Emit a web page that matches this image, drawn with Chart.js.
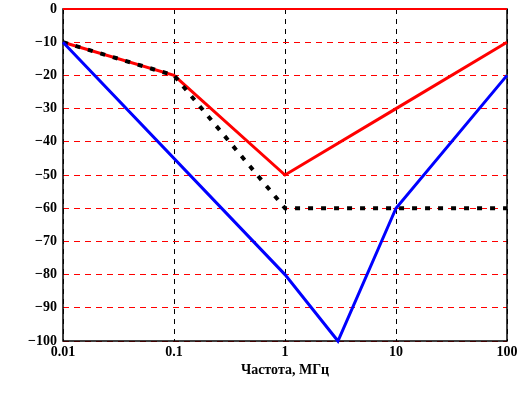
<!DOCTYPE html>
<html>
<head>
<meta charset="utf-8">
<script src="https://cdn.jsdelivr.net/npm/chart.js@4/dist/chart.umd.min.js"></script>
<style>
  html, body { margin: 0; padding: 0; background: #fff; }
  #wrap { width: 527px; height: 395px; }
</style>
</head>
<body>
<div id="wrap"><canvas id="chart"></canvas></div>
<script>
// frequency, MHz
const xTicks = [0.01, 0.1, 1, 10, 100];

const redX = [0.01, 0.1, 1, 10, 100];
const redY = [-10, -20, -50, -30, -10];

const blueX = [0.01, 1, 3, 10, 100];
const blueY = [-10, -80, -100, -60, -20];

const blackX = [0.01, 0.1, 1, 100];
const blackY = [-10, -20, -60, -60];

const pts = (xs, ys) => xs.map((x, i) => ({ x: x, y: ys[i] }));
const tickFont = { family: "'Liberation Serif', 'DejaVu Serif', serif", size: 14, weight: "bold" };

// plot frame: black box, red line at 0 dB
const framePlugin = {
  id: "frame",
  beforeDatasetsDraw(chart) {
    const { ctx, chartArea: a } = chart;
    ctx.save();
    ctx.strokeStyle = "#000";
    ctx.lineWidth = 1.5;
    ctx.strokeRect(a.left, a.top, a.right - a.left, a.bottom - a.top);
    ctx.strokeStyle = "#ff0000";
    ctx.lineWidth = 2;
    ctx.beginPath();
    ctx.moveTo(a.left, a.top);
    ctx.lineTo(a.right, a.top);
    ctx.stroke();
    ctx.restore();
  }
};

new Chart(document.getElementById("chart"), {
  type: "scatter",
  data: {
    datasets: [
      {
        data: pts(blueX, blueY),
        showLine: true,
        borderColor: "#0000ff",
        borderWidth: 3,
        pointRadius: 0,
        clip: false,
        order: 0
      },
      {
        data: pts(redX, redY),
        showLine: true,
        borderColor: "#ff0000",
        borderWidth: 3,
        pointRadius: 0,
        clip: false,
        order: 2
      },
      {
        data: pts(blackX, blackY),
        showLine: true,
        borderColor: "#000000",
        borderWidth: 4,
        borderDash: [5, 8],
        pointRadius: 0,
        clip: false,
        order: 1
      }
    ]
  },
  options: {
    responsive: true,
    maintainAspectRatio: false,
    animation: false,
    layout: { padding: { top: 0, right: 20, left: 0, bottom: 16 } },
    plugins: { legend: { display: false }, tooltip: { enabled: false } },
    scales: {
      x: {
        type: "logarithmic",
        min: 0.01,
        max: 100,
        afterBuildTicks: (scale) => {
          scale.ticks = xTicks.map((v) => ({ value: v }));
        },
        afterFit: (scale) => { scale.height = 38; },
        ticks: {
          color: "#000",
          font: tickFont,
          padding: 3,
          maxRotation: 0,
          autoSkip: false,
          callback: (v) => String(v)
        },
        grid: { color: "#000", lineWidth: 1, drawTicks: false },
        border: { display: false, dash: [5, 5] },
        title: {
          display: true,
          text: "Частота, МГц",
          color: "#000",
          font: tickFont,
          padding: { top: 0, bottom: 0 }
        }
      },
      y: {
        min: -100,
        max: 0,
        afterFit: (scale) => {
          scale.width = 63;
          scale.paddingTop = 9;
        },
        ticks: {
          stepSize: 10,
          color: "#000",
          font: tickFont,
          padding: 6,
          callback: (v) => (v < 0 ? "\u2212" + Math.abs(v) : String(v))
        },
        grid: { color: "#ff0000", lineWidth: 1, drawTicks: false },
        border: { display: false, dash: [6, 5] }
      }
    }
  },
  plugins: [framePlugin]
});
</script>
</body>
</html>
